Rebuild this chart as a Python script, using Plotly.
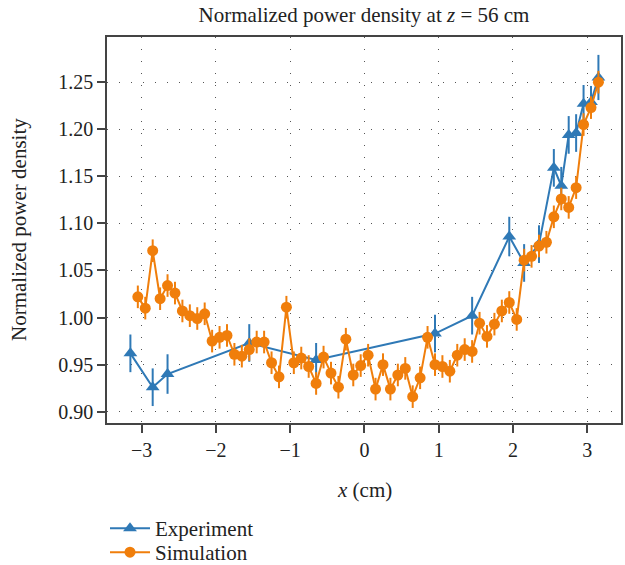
import plotly.graph_objects as go

# Experiment data
exp_x = [-3.15, -2.85, -2.65, -1.55, -0.65, 0.95, 1.45, 1.95, 2.15, 2.35,
         2.55, 2.65, 2.75, 2.85, 2.95, 3.05, 3.15]
exp_y = [0.962, 0.926, 0.940, 0.973, 0.955, 0.983, 1.002, 1.086, 1.058, 1.078,
         1.159, 1.140, 1.194, 1.196, 1.227, 1.229, 1.255]
exp_err = [0.020, 0.020, 0.021, 0.020, 0.018, 0.020, 0.020, 0.021, 0.020, 0.020,
           0.020, 0.020, 0.020, 0.020, 0.020, 0.017, 0.024]

# Simulation data
sim_x = [-3.05, -2.95, -2.85, -2.75, -2.65, -2.55, -2.45, -2.35, -2.25, -2.15,
         -2.05, -1.95, -1.85, -1.75, -1.65, -1.55, -1.45, -1.35, -1.25, -1.15,
         -1.05, -0.95, -0.85, -0.75, -0.65, -0.55, -0.45, -0.35, -0.25, -0.15,
         -0.05, 0.05, 0.15, 0.25, 0.35, 0.45, 0.55, 0.65, 0.75, 0.85,
         0.95, 1.05, 1.15, 1.25, 1.35, 1.45, 1.55, 1.65, 1.75, 1.85,
         1.95, 2.05, 2.15, 2.25, 2.35, 2.45, 2.55, 2.65, 2.75, 2.85,
         2.95, 3.05, 3.15]
sim_y = [1.022, 1.010, 1.071, 1.020, 1.034, 1.026, 1.007, 1.002, 0.999, 1.004,
         0.975, 0.979, 0.981, 0.961, 0.959, 0.966, 0.974, 0.974, 0.952, 0.937,
         1.011, 0.952, 0.957, 0.948, 0.930, 0.958, 0.941, 0.926, 0.977, 0.939,
         0.949, 0.960, 0.924, 0.950, 0.924, 0.939, 0.946, 0.916, 0.936, 0.979,
         0.950, 0.948, 0.943, 0.960, 0.966, 0.964, 0.994, 0.980, 0.993, 1.007,
         1.016, 0.998, 1.061, 1.065, 1.076, 1.080, 1.107, 1.126, 1.117, 1.138,
         1.205, 1.223, 1.250]
sim_err = [0.012] * len(sim_x)

x_ticks = [-3, -2, -1, 0, 1, 2, 3]
x_tick_labels = ["\u22123", "\u22122", "\u22121", "0", "1", "2", "3"]
y_ticks = [0.90, 0.95, 1.00, 1.05, 1.10, 1.15, 1.20, 1.25]
y_tick_labels = ["0.90", "0.95", "1.00", "1.05", "1.10", "1.15", "1.20", "1.25"]

BLUE = "#2f79b6"
ORANGE = "#f07e0b"
FONT = "Liberation Serif"

fig = go.Figure()
fig.add_trace(go.Scatter(
    x=exp_x, y=exp_y, name="Experiment", mode="lines+markers",
    line=dict(color=BLUE, width=2),
    marker=dict(symbol="triangle-up", size=12, color=BLUE),
    error_y=dict(type="data", array=exp_err, color=BLUE, thickness=2, width=0),
    legend="legend",
))
fig.add_trace(go.Scatter(
    x=sim_x, y=sim_y, name="Simulation", mode="lines+markers",
    line=dict(color=ORANGE, width=2),
    marker=dict(symbol="circle", size=11, color=ORANGE),
    error_y=dict(type="data", array=sim_err, color=ORANGE, thickness=2, width=0),
    legend="legend2",
))

axis_common = dict(
    showline=True, linecolor="#444", linewidth=1.5, mirror=True,
    ticks="outside", ticklen=8, tickwidth=1.5, tickcolor="#444",
    showgrid=True, gridcolor="#555", gridwidth=1, griddash="1px,11px",
    zeroline=False, automargin=False,
    tickfont=dict(family=FONT, size=20, color="#222"),
)

legend_common = dict(
    xref="container", x=105 / 625, xanchor="left", yref="container",
    yanchor="top", orientation="v", itemwidth=40,
    font=dict(family=FONT, size=21, color="#222"), bgcolor="rgba(0,0,0,0)",
)

fig.update_layout(
    width=625, height=565,
    margin=dict(l=107, r=4, t=37, b=142, autoexpand=False),
    paper_bgcolor="white", plot_bgcolor="white",
    font=dict(family=FONT, size=21, color="#222"),
    title=dict(text="Normalized power density at <i>z</i> = 56 cm",
               x=0.5, xref="paper", xanchor="center",
               y=1 - 15 / 565, yanchor="middle",
               font=dict(family=FONT, size=21, color="#222")),
    xaxis=dict(range=[-3.465, 3.454], tickvals=x_ticks, ticktext=x_tick_labels,
               **axis_common),
    yaxis=dict(range=[0.888, 1.298], tickvals=y_ticks, ticktext=y_tick_labels,
               **axis_common),
    annotations=[
        dict(text="<i>x</i> (cm)", xref="paper", yref="paper",
             x=0.5, y=(423 - 490) / 386, xanchor="center", yanchor="middle",
             showarrow=False, font=dict(family=FONT, size=21, color="#222")),
        dict(text="Normalized power density", xref="paper", yref="paper",
             x=(19 - 107) / 514, y=0.5, xanchor="center", yanchor="middle",
             textangle=-90, showarrow=False,
             font=dict(family=FONT, size=21, color="#222")),
    ],
    showlegend=True,
    legend=dict(y=1 - 508 / 565, **legend_common),
    legend2=dict(y=1 - 532 / 565, **legend_common),
)

fig.write_html("out.html")
